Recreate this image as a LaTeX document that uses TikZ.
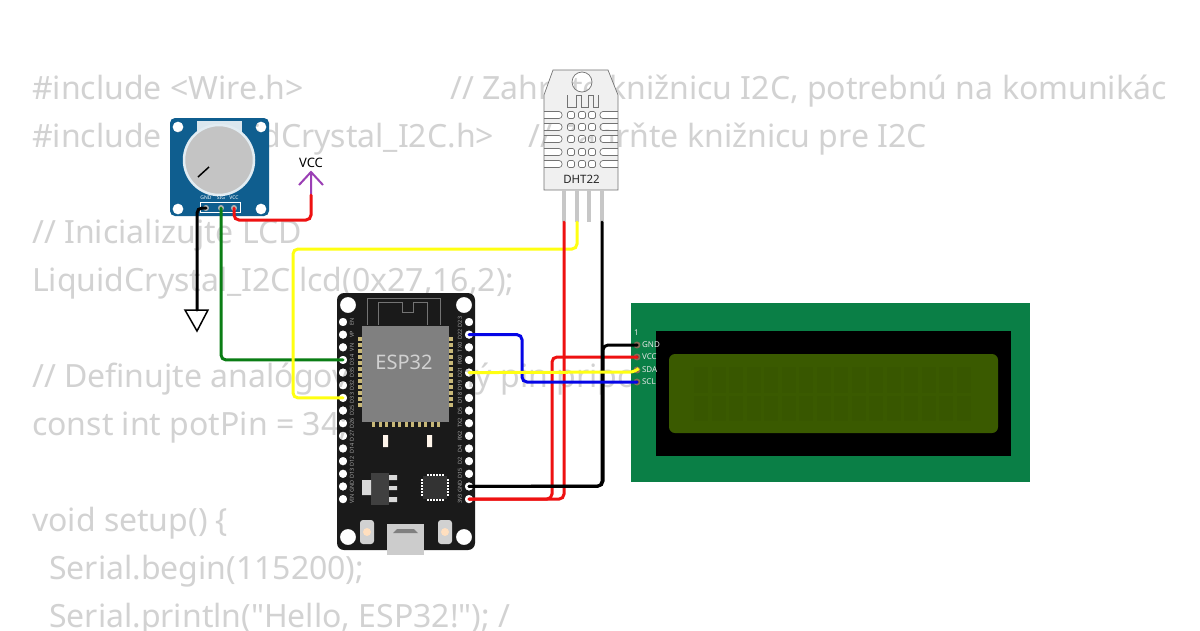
\documentclass[tikz,border=0pt]{standalone}
\usepackage{fontspec}
\setmainfont[Ligatures=TeXOff]{Noto Sans}
\usepackage{tikz}
\usetikzlibrary{arrows,positioning}
\definecolor{codegray}{HTML}{D2D2D2}
\definecolor{boardblack}{HTML}{1A1A1A}
\definecolor{chipgray}{HTML}{808080}
\definecolor{padgold}{HTML}{C8B878}
\definecolor{potblue}{HTML}{0F5E8F}
\definecolor{lcdgreen}{HTML}{0A7F46}
\definecolor{lcdscreen}{HTML}{3A5A00}
\definecolor{lcdcell}{HTML}{385700}
\definecolor{wirered}{HTML}{EE1111}
\definecolor{wireyellow}{HTML}{FFFF11}
\definecolor{wiregreen}{HTML}{0A7D14}
\definecolor{wireblue}{HTML}{0505E6}
\definecolor{wirepurple}{HTML}{9B3FB5}
\begin{document}
\begin{tikzpicture}[x=1pt,y=-1pt]
\tikzstyle{code}=[anchor=base west,inner sep=0pt,text=codegray,font=\fontsize{32}{38}\selectfont]
\tikzstyle{wire}=[line width=3pt,rounded corners=5pt,line cap=round]
\tikzstyle{pinhole}=[circle,inner sep=0pt,minimum size=8pt]
\tikzstyle{pinlabel}=[inner sep=0pt,text=black!35,font=\fontsize{5.5}{6}\selectfont]
\tikzstyle{whitelabel}=[inner sep=0pt,text=white,font=\fontsize{5}{6}\selectfont]
\tikzstyle{lcdlabel}=[anchor=west,inner sep=0pt,text=white!90!black,font=\fontsize{8}{9}\selectfont]
\tikzstyle{lcdpin}=[circle,inner sep=0pt,minimum size=5pt,fill=black,draw=black!40!orange!30!gray,line width=1.8pt]
\tikzstyle{lead}=[anchor=south,inner sep=0pt,minimum width=3.5pt,minimum height=32pt,fill=black!22]
\tikzstyle{dhtline}=[draw=black!55,line width=.7pt]
\useasboundingbox (0,0) rectangle (1200,630);
\fill[white] (0,0) rectangle (1200,630);
\node[code] (line1) at (32,99) {\#include <Wire.h>};
\node[code] (note1) at (450,99) {// Zahrňte knižnicu I2C, potrebnú na komunikác};
\node[code] (line2) at (32,147) {\#include <LiquidCrystal\_I2C.h>};
\node[code] (note2) at (528,147) {// Zahrňte knižnicu pre I2C};
\node[code] (line3) at (32,243) {// Inicializujte LCD};
\node[code] (line4) at (32,291) {LiquidCrystal\_I2C lcd(0x27,16,2);};
\node[code] (line5) at (32,387) {// Definujte analógový vstupný pin pripo};
\node[code] (line6) at (32,435) {const int potPin = 34;};
\node[code] (line7) at (32,531) {void setup() \{};
\node[code] (line8) at (49,579) {Serial.begin(115200);};
\node[code] (line9) at (49,627) {Serial.println("Hello, ESP32!"); /};
% LCD
\fill[lcdgreen] (631,303) rectangle (1030,482);
\fill[black] (656,331) rectangle (1011,456);
\fill[lcdscreen,rounded corners=6pt] (669,354) rectangle (998,433);
\foreach \i in {0,...,15} {
\fill[lcdcell] ({694+\i*17.5},367) rectangle ({708+\i*17.5},393);
\fill[lcdcell] ({694+\i*17.5},396) rectangle ({708+\i*17.5},421);
}
\node[lcdlabel] (lcdone) at (634,333) {1};
\foreach \n/\lab/\y in {lcdG/GND/345,lcdV/VCC/357,lcdD/SDA/370,lcdC/SCL/382} {
\node[lcdpin] (\n) at (637,\y) {};
\node[lcdlabel,right=1.5pt of \n] (\n text) {\lab};
}
% ESP32
\fill[boardblack,even odd rule] [rounded corners=7pt] (337,293) rectangle (475,550) [sharp corners]
(348,305) circle (8pt) (464,305) circle (8pt) (348,537) circle (8pt) (464,537) circle (8pt)
\foreach \i in {0,...,14} {(343,{322+\i*12.65}) circle (4.3pt) (469,{322+\i*12.65}) circle (4.3pt)};
\foreach \lab [count=\i from 0] in {EN,VP,VN,D34,D35,D32,D33,D25,D26,D27,D14,D12,D13,GND,VIN} {
\node[pinhole] (espL\i) at (343,{322+\i*12.65}) {};
\node[pinlabel,rotate=90] (espLtext\i) at (352,{322+\i*12.65}) {\lab};
}
\foreach \lab [count=\i from 0] in {D23,D22,TX0,RX0,D21,D19,D18,D5,TX2,RX2,D4,D2,D15,GND,3V3} {
\node[pinhole] (espR\i) at (469,{322+\i*12.65}) {};
\node[pinlabel,rotate=90] (espRtext\i) at (460,{322+\i*12.65}) {\lab};
}
\draw[black!55,line width=.8pt] (367,325) -- (367,298) -- (440,298) -- (440,325)
(378,325) -- (378,302) -- (402,302) -- (402,312) -- (413,312) -- (413,302) -- (427,302) -- (427,325);
\foreach \i in {0,...,11} {
\fill[padgold] (358,{337+\i*6}) rectangle (362,{341+\i*6});
\fill[padgold] (449,{337+\i*6}) rectangle (453,{341+\i*6});
}
\foreach \i in {0,...,10} {
\fill[padgold] ({372+\i*6.5},422) rectangle ({375+\i*6.5},427);
}
\fill[chipgray] (362,326) rectangle (449,422);
\node[inner sep=0pt,text=black!18,font=\fontsize{20}{24}\selectfont] (esptext) at (404,362) {ESP32};
\fill[white!92!orange] (383,435) rectangle (388,447) (427,435) rectangle (432,447);
\fill[black!75] (371,473) rectangle (389,505);
\fill[black!15] (362,480) rectangle (371,495) (389,475) rectangle (397,480) (389,486) rectangle (397,490) (389,497) rectangle (397,502);
\fill[black!80] (423,476) rectangle (447,499);
\foreach \i in {0,...,5} {
\fill[white] ({427+\i*3},474) rectangle ({428.5+\i*3},476);
\fill[white] ({427+\i*3},499) rectangle ({428.5+\i*3},501);
\fill[white] (421,{479+\i*3}) rectangle (423,{480.5+\i*3});
\fill[white] (447,{479+\i*3}) rectangle (449,{480.5+\i*3});
}
\foreach \x in {367,445} {
\fill[black!18,rounded corners=3pt] ({\x-7},520) rectangle ({\x+7},544);
\fill[orange!25!white] (\x,532) circle (4pt);
}
\fill[black!20] (387,524) rectangle (424,555);
\fill[black!50] (397,529) -- (414,529) -- (418,533) -- (393,533) -- cycle;
% potentiometer
\fill[potblue,even odd rule] [rounded corners=5pt] (170,118) rectangle (269,216) [sharp corners]
(178,127) circle (5.5pt) (261,127) circle (5.5pt) (178,209) circle (5.5pt) (261,209) circle (5.5pt);
\fill[white!85!potblue] (197,121) rectangle (242,135);
\filldraw[fill=black!23,draw=white!88!potblue,line width=2.5pt] (219,160) circle (35pt);
\draw[black,line width=1.5pt] (198,177) -- (209,167);
\draw[white,line width=1pt] (200,202) rectangle (240,212);
\foreach \n/\lab/\x in {potG/GND/206,potS/SIG/221,potV/VCC/234} {
\node[circle,inner sep=0pt,minimum size=6pt,fill=black!30] (\n) at (\x,208) {};
\node[whitelabel] (\n text) at (\x,198) {\lab};
}
% DHT22
\filldraw[fill=black!6,dhtline,even odd rule] (553,70) -- (608,70) -- (618,95) -- (618,190) -- (544,190) -- (544,95) -- cycle
(582,82) circle (10pt)
\foreach \y in {115,127,139,152,164} {
(544,{\y-3.5}) [rounded corners=3pt] -- (562,{\y-3.5}) -- (562,{\y+3.5}) [sharp corners] -- (544,{\y+3.5}) -- cycle
(618,{\y-3.5}) [rounded corners=3pt] -- (600,{\y-3.5}) -- (600,{\y+3.5}) [sharp corners] -- (618,{\y+3.5}) -- cycle
\foreach \x in {571,582,592} {
[rounded corners=1.5pt] ({\x-3.5},{\y-3.5}) rectangle ({\x+3.5},{\y+3.5}) [sharp corners]
}
};
\draw[dhtline] (567,95) -- (567,107) -- (576,107) -- (576,95) -- (581,95) -- (581,107) -- (588,107) -- (588,95) -- (593,95) -- (593,107) -- (598,107) -- (598,95);
\node[inner sep=0pt,text=black!85,font=\fontsize{11.5}{13}\selectfont] (dhttext) at (581.5,179) {DHT22};
\foreach \n/\x in {dht1/564,dht2/577,dht3/589,dht4/602} {
\node[lead] (\n) at (\x,222) {};
}
% symbols
\node[inner sep=0pt,font=\fontsize{13}{15}\selectfont] (vcctext) at (311,163) {VCC};
\coordinate (vccfoot) at (311,195);
\coordinate (vcctip) at (311,172);
\coordinate (gndtop) at (197,310);
\draw[wirepurple,line width=2pt] (vccfoot) -- (vcctip) (299,185) -- (vcctip) -- (323,185);
\filldraw[fill=white,draw=black,line width=1.5pt] (185,310) -- (208,310) -- (197,331) -- cycle;
% wires
\draw[wire,wirered] (potV.center) -- ++(0,12) -| (vccfoot);
\draw[wire,black] (potG.center) -| (gndtop);
\draw[wire,wiregreen] (potS.center) |- (espL3.center);
\draw[wire,wireyellow] (dht2.south) |- (293,249) |- (espL6.center);
\draw[wire,wirered] (dht1.south) |- (espR14.center);
\draw[wire,wirered] (lcdV.center) -| (552,499) -- (espR14.center);
\draw[wire,black] (dht4.south) |- (espR13.center);
\draw[wire,black] (lcdG.center) -| (603,486) -- (espR13.center);
\draw[wire,wireblue] (espR1.center) -| (522,382) -- (lcdC.center);
\draw[wire,wireyellow] (espR4.center) -- (635,372) -- (lcdD.center);
\end{tikzpicture}
\end{document}
